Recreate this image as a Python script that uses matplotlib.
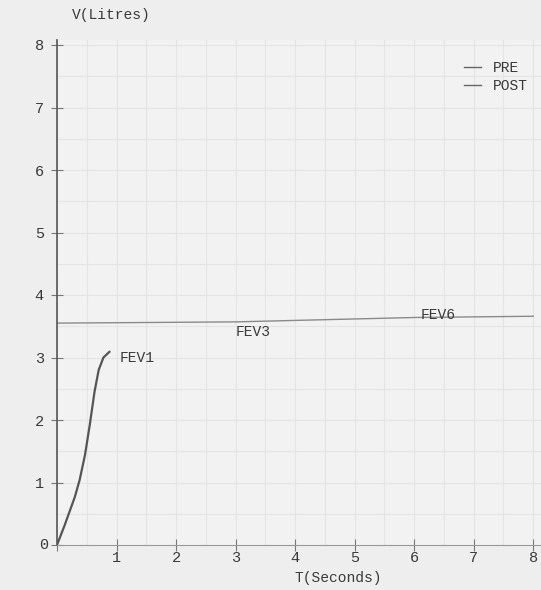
import numpy as np
import matplotlib.pyplot as plt

# spirogram values
pre_t = [0.0, 0.13, 0.30, 0.38, 0.47, 0.55, 0.63, 0.70, 0.78, 0.88]
pre_v = [0.0, 0.32, 0.77, 1.04, 1.44, 1.92, 2.45, 2.80, 3.00, 3.09]
post_t = [0.0, 3.0, 6.0, 8.0]
post_v = [3.55, 3.57, 3.64, 3.66]

markers = ["FEV1", "FEV3", "FEV6"]
marker_t = [1.05, 3.0, 6.1]
marker_v = [3.0, 3.4, 3.68]

xticks = [0, 1, 2, 3, 4, 5, 6, 7, 8]
yticks = [0, 1, 2, 3, 4, 5, 6, 7, 8]

plt.rcParams['font.family'] = ['Liberation Mono', 'DejaVu Sans Mono']
ink = '#3a3a3a'

fig = plt.figure(figsize=(5.41, 5.90), dpi=100, facecolor='#eeeeee')
ax = fig.add_axes([57 / 541, 1 - 545 / 590, 484 / 541, 505 / 590])
ax.set_facecolor('#f2f2f2')

ax.plot(pre_t, pre_v, color='#555555', lw=1.6, label='PRE')
ax.plot(post_t, post_v, color='#8a8a8a', lw=1.0, label='POST')

for name, t, v in zip(markers, marker_t, marker_v):
    ax.text(t, v, name, color=ink, fontsize=10.5, va='center', ha='left')

ax.set_xlim(0, 8.13)
ax.set_ylim(0, 8.08)
ax.set_xticks(xticks)
ax.set_yticks(yticks)
ax.set_xticklabels(['' if x == 0 else str(x) for x in xticks])
ax.set_yticklabels(['' if y == 0 else str(y) for y in yticks])
ax.tick_params(axis='both', direction='inout', length=9, width=0.8,
               colors='#777777', labelcolor=ink, labelsize=11)
ax.tick_params(axis='y', pad=5)
ax.tick_params(axis='x', pad=0)

# faint chart-paper grid
ax.set_xticks(np.arange(0, 8.1, 0.5), minor=True)
ax.set_yticks(np.arange(0, 8.1, 0.5), minor=True)
ax.tick_params(which='minor', length=0)
ax.grid(True, which='both', color='#e4e4e4', lw=0.8)

for side in ['top', 'right']:
    ax.spines[side].set_visible(False)
ax.spines['left'].set_color('#555555')
ax.spines['left'].set_linewidth(1.2)
ax.spines['bottom'].set_color('#999999')

ax.text(-0.15, 0.0, '0', color=ink, fontsize=11, ha='right', va='center')

fig.text(72 / 541, 1 - 15 / 590, 'V(Litres)', color=ink, fontsize=10.5,
         ha='left', va='center')
fig.text(338 / 541, 1 - 578 / 590, 'T(Seconds)', color=ink, fontsize=10.5,
         ha='center', va='center')

leg = ax.legend(loc='upper right', bbox_to_anchor=(1.0, 0.985), frameon=False,
                fontsize=10.5, handlelength=1.2, labelcolor=ink, handletextpad=0.8,
                labelspacing=0.3)
for line in leg.get_lines():
    line.set_color('#666666')
    line.set_linewidth(1.0)

fig.savefig('out.png', dpi=100, facecolor=fig.get_facecolor())
